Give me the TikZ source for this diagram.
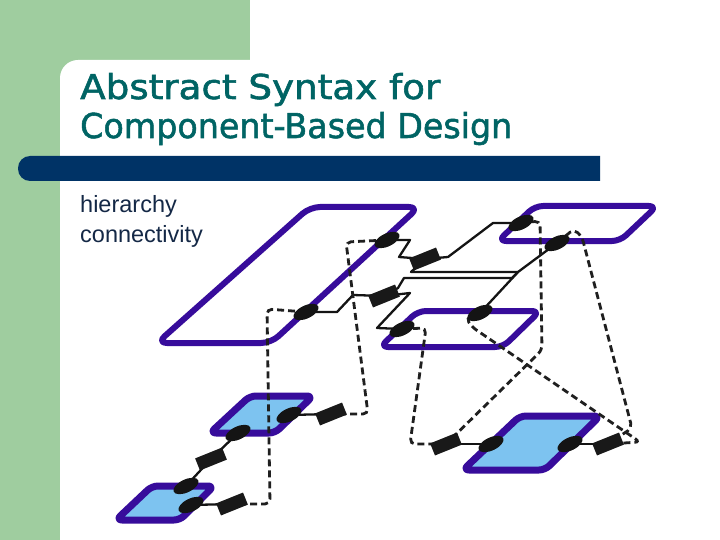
\documentclass[tikz,border=0pt]{standalone}
\usepackage{fontspec}
\usepackage{graphicx}
\usetikzlibrary{shapes.geometric}
\newfontfamily\titlefont[FakeBold=1.6]{DejaVu Sans}
\newfontfamily\bodyfont{Liberation Sans}
\definecolor{slidegreen}{RGB}{159,205,159}
\definecolor{barnavy}{RGB}{0,51,102}
\definecolor{titleteal}{RGB}{0,100,100}
\definecolor{bodytext}{RGB}{20,40,70}
\definecolor{purp}{RGB}{55,12,155}
\definecolor{lblue}{RGB}{125,195,240}
\pgfdeclarelayer{bg}
\pgfdeclarelayer{shapes}
\pgfdeclarelayer{wires}
\pgfsetlayers{bg,shapes,wires,main}
\begin{document}
\begin{tikzpicture}[x=1pt,y=-1pt,
  port/.style={ellipse, fill=black!92, minimum width=27pt, minimum height=13pt, inner sep=0pt, rotate=25},
  conn/.style={rectangle, fill=black!90, minimum width=29pt, minimum height=13pt, inner sep=0pt, rotate=22},
  wire/.style={line width=2.3pt, black!92, line join=round},
  dwire/.style={line width=2.8pt, black!88, dash pattern=on 7pt off 4pt, rounded corners=5pt},
  compframe/.style={draw=purp, line width=6pt, rounded corners=8pt, line join=round},
  blueframe/.style={compframe, fill=lblue, line width=7pt, rounded corners=6pt}]
\useasboundingbox (0,0) rectangle (720,540);
\clip (0,0) rectangle (720,540);
% background
\begin{pgfonlayer}{bg}
\fill[white] (0,0) rectangle (720,540);
\fill[slidegreen] (0,0) rectangle (250,80);
\fill[slidegreen] (0,0) rectangle (60,540);
\fill[white, rounded corners=18pt] (60,60) rectangle (760,580);
\fill[barnavy] (600,156) [rounded corners=12pt] -- (18,156) -- (18,181) [sharp corners] -- (600,181) -- cycle;
\end{pgfonlayer}
% texts
\node[anchor=base west, inner sep=0pt, text=titleteal] (t1) at (80,99) {\resizebox{360pt}{26pt}{\titlefont Abstract Syntax for}};
\node[anchor=base west, inner sep=0pt, text=titleteal] (t2) at (80,138) {\resizebox{432pt}{26pt}{\titlefont Component-Based Design}};
\node[anchor=base west, inner sep=0pt, text=bodytext, font=\bodyfont\fontsize{23.5}{28}\selectfont] (h1) at (80,213) {hierarchy};
\node[anchor=base west, inner sep=0pt, text=bodytext, font=\bodyfont\fontsize{23.5}{28}\selectfont] (h2) at (80,243) {connectivity};
% components
\begin{pgfonlayer}{shapes}
\draw[compframe, fill=white, rounded corners=10pt] (310,207) -- (419,207) -- (271,343) -- (157,343) -- cycle;
\draw[compframe, fill=white] (535,206) -- (657,206) -- (620,241) -- (498,241) -- cycle;
\draw[compframe, fill=white] (418,311) -- (540,311) -- (503,347) -- (380,347) -- cycle;
\draw[blueframe] (250,396) -- (313,396) -- (275,433) -- (210,433) -- cycle;
\draw[blueframe] (152,486) -- (214,486) -- (180,520) -- (116,520) -- cycle;
\draw[blueframe] (520,416) -- (600,416) -- (545,470) -- (463,470) -- cycle;
\end{pgfonlayer}
% ports
\node[port] (p1) at (387,240) {};
\node[port] (p2) at (306,312) {};
\node[port] (ptr1) at (521,223) {};
\node[port] (ptr2) at (557,243) {};
\node[port] (m1) at (402,329) {};
\node[port] (m2) at (480,313) {};
\node[port] (aR) at (289,415) {};
\node[port] (aB) at (238,433) {};
\node[port] (bT) at (186,486) {};
\node[port] (bR) at (191,505) {};
\node[port] (cL) at (491,444) {};
\node[port] (cR) at (570,444) {};
% connectors
\node[conn] (b1) at (425,259) {};
\node[conn] (b2) at (384,296) {};
\node[conn] (ba) at (331,414) {};
\node[conn] (bb) at (232,504) {};
\node[conn] (bab) at (211,459) {};
\node[conn] (bc1) at (446,444) {};
\node[conn] (bc2) at (608,444) {};
\coordinate (j) at (518,272);
\begin{pgfonlayer}{wires}
\draw[wire] (p1.center) -- (410,240) -- (399,257) -- (b1.center);
\draw[wire] (b1.center) -- (448,257) -- (493,223) -- (ptr1.center);
\draw[wire] (b1.center) -- (411,272) -- (j);
\draw[wire] (b2.center) -- (398,288) -- (404,278) -- (512,278) -- (j);
\draw[wire] (j) -- (ptr2.center);
\draw[wire] (m2.center) -- (j);
\draw[wire] (p2.center) -- (337,312) -- (353,295) -- (b2.center);
\draw[wire] (b2.center) -- (410,293) -- (377,328) -- (m1.center);
\draw[wire] (aR.center) -- (ba.center);
\draw[wire] (bR.center) -- (bb.center);
\draw[wire] (aB.center) -- (bab.center) -- (bT.center);
\draw[wire] (bc1.center) -- (cL.center);
\draw[wire] (cR.center) -- (bc2.center);
\draw[dwire] (p1.center) -- (346,242) -- (368,414) -- (ba.center);
\draw[dwire] (p2.center) -- (267,309) -- (270,504) -- (bb.center);
\draw[dwire] (m1.center) -- (426,328) -- (410,444) -- (bc1.center);
\draw[dwire] (ptr1.center) -- (540,221) -- (542,350) -- (bc1.center);
\draw[dwire] (m2.center) -- (466,318) -- (472,327) -- (640,442) -- (bc2.center);
\draw[dwire] (ptr2.center) -- (574,229) -- (582,237) -- (632,428) -- (bc2.center);
\end{pgfonlayer}
\end{tikzpicture}
\end{document}
